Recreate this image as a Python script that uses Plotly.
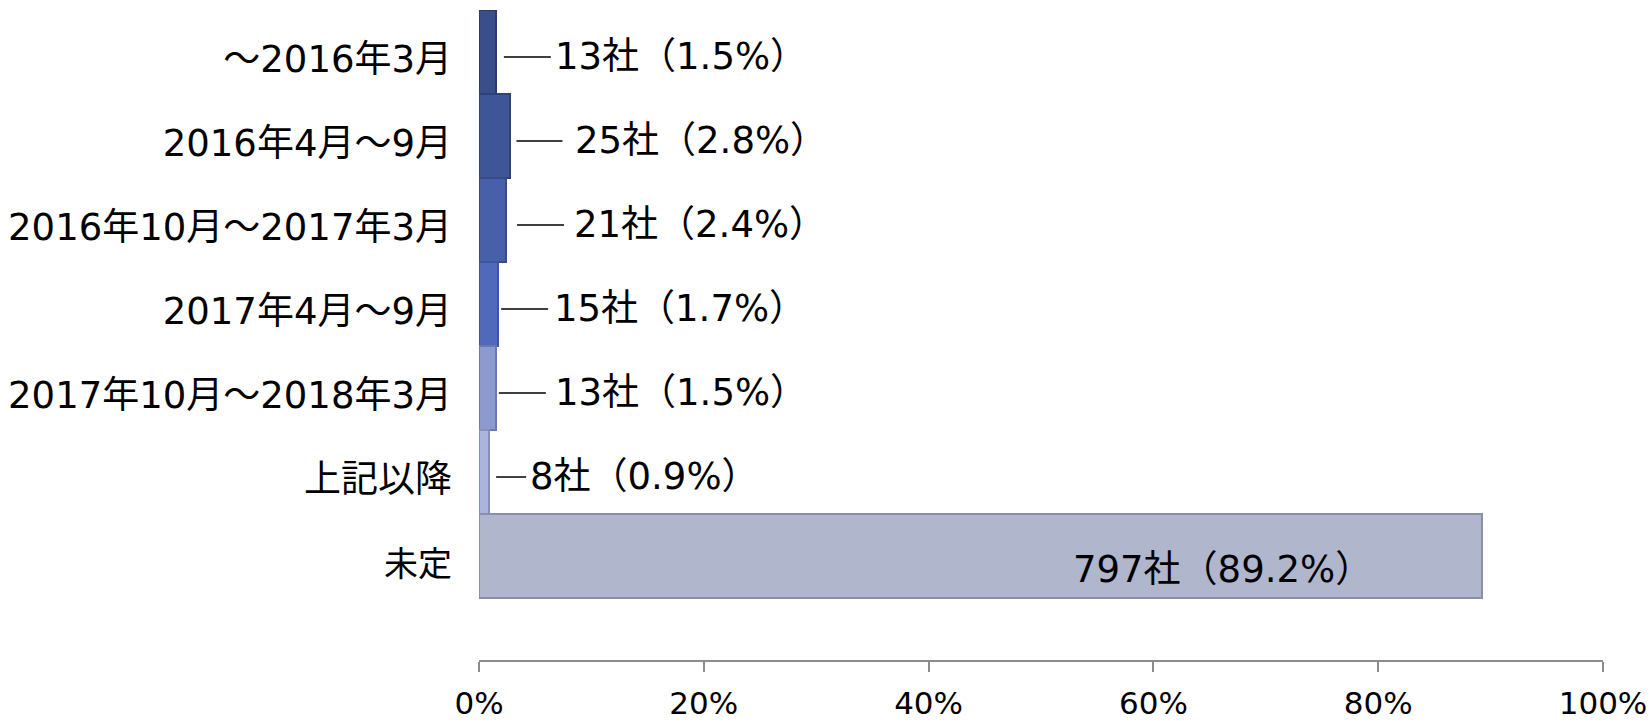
import plotly.graph_objects as go

categories = ["～2016年3月", "2016年4月～9月", "2016年10月～2017年3月", "2017年4月～9月",
              "2017年10月～2018年3月", "上記以降", "未定"]
companies = [13, 25, 21, 15, 13, 8, 797]
percents = [1.5, 2.8, 2.4, 1.7, 1.5, 0.9, 89.2]
x_ticks = [0, 20, 40, 60, 80, 100]
x_ticktext = ["0%", "20%", "40%", "60%", "80%", "100%"]

# styling
colors = ["#3a4e8c", "#3e5598", "#4760a9", "#5169ba", "#8d9acf", "#aab4dc", "#b0b6cc"]
edge_colors = ["#2a3a6c", "#2e4276", "#364c88", "#3f5598", "#6b78ac", "#8590bc", "#8a90a8"]
# (line start px, line end px, text start px) relative to bar end
leader = [(8, 55, 57), (6, 52, 63), (11, 58, 66), (3, 50, 54), (3, 50, 57), (7, 37, 39)]
FONT = "DejaVu Sans, Noto Sans CJK JP, sans-serif"
LABEL_OFFSET = 0.08  # tick label vertical nudge (category units)

ticktext = [c if c != "未定" else "<span style='font-size:34px'>未定</span>" for c in categories]

fig = go.Figure()
fig.add_trace(go.Bar(
    y=list(range(len(categories))), x=percents, orientation="h",
    width=1,
    marker=dict(color=colors, line=dict(color=edge_colors, width=2)),
    hoverinfo="skip", showlegend=False,
))

for i, (n, p) in enumerate(zip(companies, percents)):
    label = f"{n}社（{p:.1f}%）"
    if i < len(leader):
        l0, l1, t0 = leader[i]
        fig.add_shape(type="line", xref="x", yref="y", xsizemode="pixel", ysizemode="pixel",
                      xanchor=p, yanchor=i, x0=l0, x1=l1, y0=-5, y1=-5,
                      line=dict(color="#000000", width=1.5))
        fig.add_annotation(x=p, y=i, text=label, showarrow=False, xanchor="left",
                           xshift=t0, yshift=-4, font=dict(size=37, color="#000", family=FONT))
    else:
        fig.add_annotation(x=p, y=i, text=label, showarrow=False, xanchor="right",
                           xshift=-108, yshift=-13, font=dict(size=37, color="#000", family=FONT))

fig.update_layout(
    width=1652, height=728,
    margin=dict(l=479, r=49, t=10, b=68),
    paper_bgcolor="white", plot_bgcolor="white",
    font=dict(family=FONT, color="#000"),
    bargap=0,
    xaxis=dict(range=[0, 100], tickvals=x_ticks, ticktext=x_ticktext, showgrid=False, zeroline=False,
               showline=True, linecolor="#8c8c8c", linewidth=1.5, ticks="outside", ticklen=10,
               tickcolor="#8c8c8c", tickwidth=1.5, tickfont=dict(size=31, family=FONT),
               ticklabelstandoff=5, automargin=False, fixedrange=True),
    yaxis=dict(range=[7.238, -0.5], tickvals=[i + LABEL_OFFSET for i in range(len(categories))],
               ticktext=ticktext,
               showgrid=False, zeroline=False, showline=False, ticks="",
               tickfont=dict(size=37, family=FONT), ticklabelstandoff=26, automargin=False,
               fixedrange=True),
)

fig.write_html("out.html")
